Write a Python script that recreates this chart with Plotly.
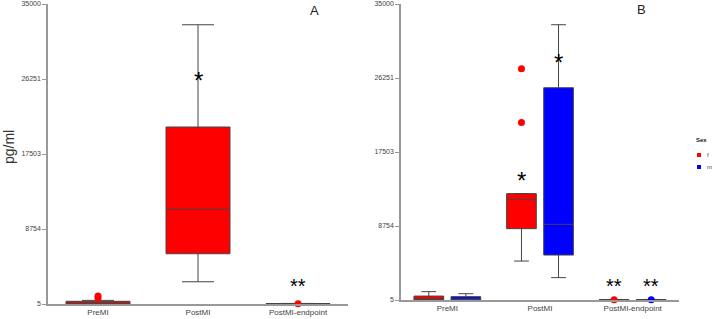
import plotly.graph_objects as go

categories = ["PreMI", "PostMI", "PostMI-endpoint"]
tick_vals_y = [5, 8754, 17503, 26251, 35000]

# Panel A (all animals) box statistics
a_q1 = [5, 5870, 5]
a_median = [100, 11050, 25]
a_q3 = [320, 20650, 50]
a_low = [5, 2600, 5]
a_high = [430, 32580, 70]
a_out_cat = [0, 0, 2]
a_out_val = [930, 700, 40]
a_star_cat = [1, 2]
a_star_val = [26600, 2500]
a_star_txt = ["*", "**"]

# Panel B (by sex)
b_f_q1 = [5, 8440, 5]
b_f_median = [150, 11870, 25]
b_f_q3 = [470, 12580, 50]
b_f_low = [5, 4610, 5]
b_f_high = [990, 12580, 70]
b_m_q1 = [5, 5320, 5]
b_m_median = [120, 8950, 25]
b_m_q3 = [400, 25100, 50]
b_m_low = [5, 2650, 5]
b_m_high = [750, 32550, 70]
b_f_out_cat = [1, 1, 2]
b_f_out_val = [27350, 21000, 40]
b_m_out_cat = [2]
b_m_out_val = [40]
b_star_cat = [1, 1, 2, 2]
b_star_grp = [-1, 1, -1, 1]
b_star_val = [14650, 28600, 2000, 2000]
b_star_txt = ["*", "*", "**", "**"]

legend_names = ["f", "m"]

RED = "#FF0000"
BLUE = "#0000FF"
LINE = "#444444"
FONT = "Liberation Sans, Arial, sans-serif"
GOFF = 0.2  # group offset of the sex boxes
W, H = 712, 319


def px(x):
    return x / W


def py(y):
    return 1 - y / H


fig = go.Figure()

fig.add_trace(go.Box(x=list(range(3)), q1=a_q1, median=a_median, q3=a_q3,
                     lowerfence=a_low, upperfence=a_high, boxpoints=False,
                     fillcolor=RED, line=dict(color=LINE, width=1),
                     alignmentgroup="A", offsetgroup="all",
                     showlegend=False, xaxis="x", yaxis="y"))
fig.add_trace(go.Scatter(x=a_out_cat, y=a_out_val, mode="markers",
                         marker=dict(color=RED, size=7), cliponaxis=False,
                         showlegend=False, xaxis="x", yaxis="y"))

fig.add_trace(go.Box(x=list(range(3)), q1=b_f_q1, median=b_f_median, q3=b_f_q3,
                     lowerfence=b_f_low, upperfence=b_f_high, boxpoints=False,
                     fillcolor=RED, line=dict(color=LINE, width=1), name="f",
                     alignmentgroup="B", offsetgroup="f",
                     showlegend=False, xaxis="x2", yaxis="y2"))
fig.add_trace(go.Box(x=list(range(3)), q1=b_m_q1, median=b_m_median, q3=b_m_q3,
                     lowerfence=b_m_low, upperfence=b_m_high, boxpoints=False,
                     fillcolor=BLUE, line=dict(color=LINE, width=1), name="m",
                     alignmentgroup="B", offsetgroup="m",
                     showlegend=False, xaxis="x2", yaxis="y2"))
fig.add_trace(go.Scatter(x=[c - GOFF for c in b_f_out_cat], y=b_f_out_val, mode="markers",
                         marker=dict(color=RED, size=7), cliponaxis=False,
                         showlegend=False, xaxis="x2", yaxis="y2"))
fig.add_trace(go.Scatter(x=[c + GOFF for c in b_m_out_cat], y=b_m_out_val, mode="markers",
                         marker=dict(color=BLUE, size=7), cliponaxis=False,
                         showlegend=False, xaxis="x2", yaxis="y2"))

ann = []
shapes = []


def star_font(t):
    return dict(size=24 if t == "*" else 20, color="black", family=FONT)


def star_shift(t):
    return -4 if t == "*" else -3


for c, v, t in zip(a_star_cat, a_star_val, a_star_txt):
    ann.append(dict(x=c, y=v, xref="x", yref="y", text=t, showarrow=False,
                    font=star_font(t), yshift=star_shift(t)))
for c, g, v, t in zip(b_star_cat, b_star_grp, b_star_val, b_star_txt):
    ann.append(dict(x=c + g * GOFF, y=v, xref="x2", yref="y2", text=t, showarrow=False,
                    font=star_font(t), yshift=star_shift(t)))
ann.append(dict(x=px(314), y=py(11), xref="paper", yref="paper", text="A",
                xanchor="center", yanchor="middle",
                showarrow=False, font=dict(size=13, color="#222", family=FONT)))
ann.append(dict(x=px(641), y=py(10), xref="paper", yref="paper", text="B",
                xanchor="center", yanchor="middle",
                showarrow=False, font=dict(size=13, color="#222", family=FONT)))
ann.append(dict(x=px(9), y=py(147), xref="paper", yref="paper", text="pg/ml",
                xanchor="center", yanchor="middle", borderpad=0,
                textangle=-90, showarrow=False, font=dict(size=14, color="#333", family=FONT)))

# manual legend
ann.append(dict(x=px(701), y=py(140), xref="paper", yref="paper", text="<b>Sex</b>",
                xanchor="center", yanchor="middle", showarrow=False,
                font=dict(size=6, color="#222", family=FONT)))
for i, (nm, col) in enumerate(zip(legend_names, [RED, BLUE])):
    yc = 155 + 12 * i
    shapes.append(dict(type="rect", xref="paper", yref="paper",
                       x0=px(697), x1=px(701), y0=py(yc + 2), y1=py(yc - 2),
                       fillcolor=col, line=dict(width=0)))
    ann.append(dict(x=px(705), y=py(yc), xref="paper", yref="paper", text=nm,
                    xanchor="left", yanchor="middle", showarrow=False,
                    font=dict(size=6, color="#444", family=FONT)))

xax = dict(range=[-0.5, 2.5], tickvals=[0, 1, 2], ticktext=categories,
           showline=True, linecolor="#999", linewidth=1.5, ticks="",
           showgrid=False, zeroline=False, automargin=False,
           tickfont=dict(size=8, color="#444", family=FONT))
yax = dict(range=[5, 35000], tickvals=tick_vals_y, ticktext=[str(v) for v in tick_vals_y],
           showline=True, linecolor="#999", linewidth=1.5, ticks="outside",
           ticklen=4, tickcolor="#999", showgrid=False, zeroline=False, automargin=False,
           tickfont=dict(size=7, color="#444", family=FONT))

fig.update_layout(
    width=W, height=H,
    margin=dict(l=0, r=0, t=0, b=0),
    paper_bgcolor="white", plot_bgcolor="white",
    boxmode="group", boxgap=0.2, boxgroupgap=0.2,
    xaxis=dict(xax, domain=[px(48), px(348)], anchor="y"),
    yaxis=dict(yax, domain=[py(304), py(4)], anchor="x"),
    xaxis2=dict(xax, domain=[px(401), px(679)], anchor="y2"),
    yaxis2=dict(yax, domain=[py(300), py(4)], anchor="x2"),
    annotations=ann,
    shapes=shapes,
    showlegend=False,
    font=dict(family=FONT),
)

fig.write_html("out.html", config={"displayModeBar": False},
               post_script="document.body.style.margin='0';document.body.style.padding='0';")
